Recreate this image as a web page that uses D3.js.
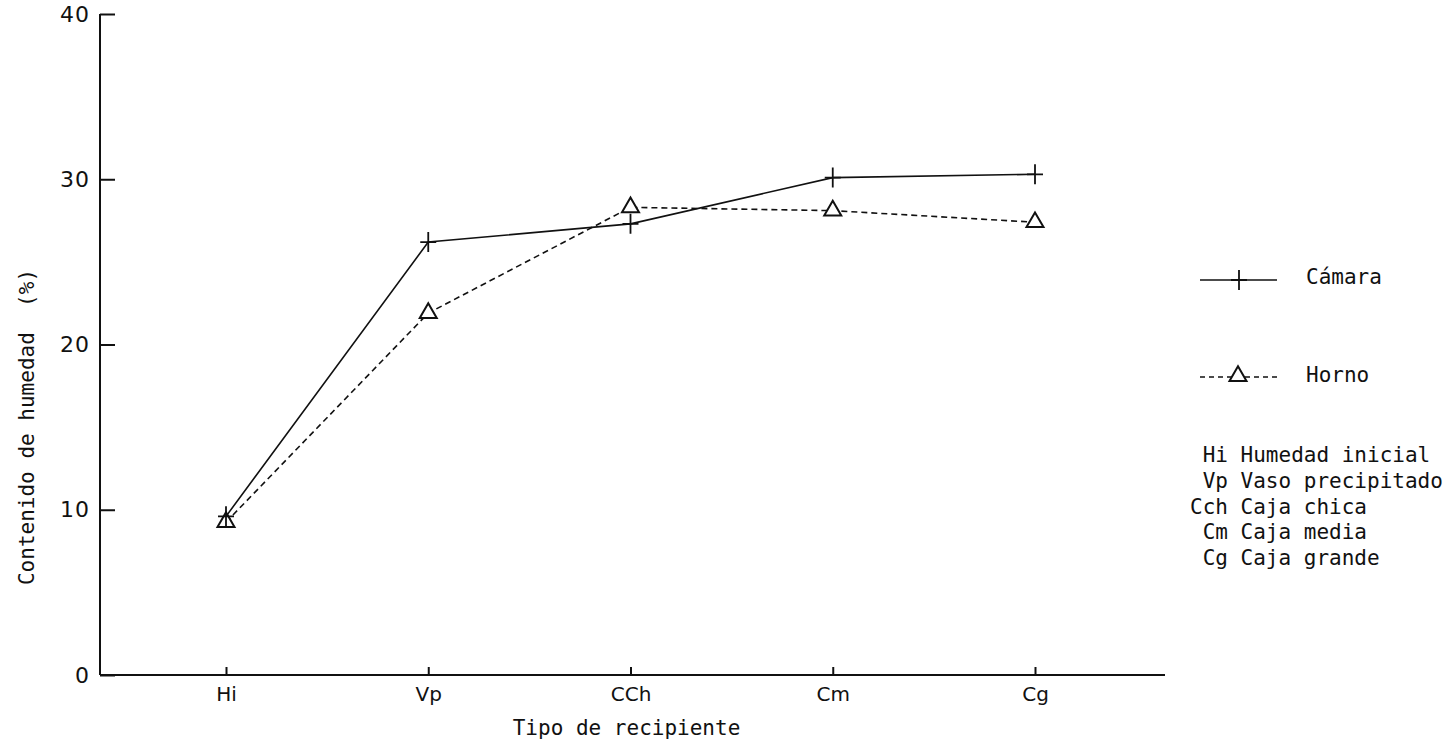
<!DOCTYPE html>
<html>
<head>
<meta charset="utf-8">
<script src="https://cdn.jsdelivr.net/npm/d3@7"></script>
<style>
  body { margin: 0; background: #fff; }
  svg { display: block; }
  .mono { font-family: "DejaVu Sans Mono", monospace; fill: #111; }
  .tick text { font-family: "DejaVu Sans", sans-serif; fill: #111; }
</style>
</head>
<body>
<svg id="chart"></svg>
<script>
const categories = ['Hi', 'Vp', 'CCh', 'Cm', 'Cg'];
const camara = [9.6, 26.2, 27.3, 30.1, 30.3];
const horno = [9.25, 21.9, 28.3, 28.1, 27.4];
const yTicks = [0, 10, 20, 30, 40];
const legendNotes = [' Hi Humedad inicial', ' Vp Vaso precipitado', 'Cch Caja chica', ' Cm Caja media', ' Cg Caja grande'];

function renderChart() {
    const width = 1456;
    const height = 747;
    const axisLeftX = 100;
    const axisRightX = 1165;
    const axisTop = 14;
    const axisBottom = 675;

    const svg = d3.select('#chart')
        .attr('width', width)
        .attr('height', height);

    const x = d3.scalePoint()
        .domain(categories)
        .range([226, 1035]);

    const y = d3.scaleLinear()
        .domain([0, 40])
        .range([axisBottom, axisTop]);

    // y axis, ticks pointing inward
    const yAxis = svg.append('g')
        .attr('transform', `translate(${axisLeftX},0)`)
        .call(d3.axisLeft(y).tickValues(yTicks).tickSize(-15).tickSizeOuter(0).tickPadding(10));
    yAxis.select('.domain').remove();
    yAxis.selectAll('.tick line').attr('stroke', '#111').attr('stroke-width', 2);
    yAxis.selectAll('.tick text').style('font-size', '22px').style('letter-spacing', '1px');

    svg.append('line')
        .attr('x1', axisLeftX).attr('x2', axisLeftX)
        .attr('y1', y(40)).attr('y2', axisBottom)
        .attr('stroke', '#111').attr('stroke-width', 2);

    // x axis, small ticks pointing up
    const xAxis = svg.append('g')
        .attr('transform', `translate(0,${axisBottom})`)
        .call(d3.axisBottom(x).tickSize(-8).tickSizeOuter(0).tickPadding(12));
    xAxis.select('.domain').remove();
    xAxis.selectAll('.tick line').attr('stroke', '#111').attr('stroke-width', 2);
    xAxis.selectAll('.tick text').style('font-size', '20px');

    svg.append('line')
        .attr('x1', axisLeftX).attr('x2', axisRightX)
        .attr('y1', axisBottom).attr('y2', axisBottom)
        .attr('stroke', '#111').attr('stroke-width', 2);

    // axis titles
    svg.append('text')
        .attr('class', 'mono')
        .attr('x', (axisLeftX + axisRightX) / 2 - 6)
        .attr('y', 735)
        .attr('text-anchor', 'middle')
        .style('font-size', '21px')
        .text('Tipo de recipiente');

    svg.append('text')
        .attr('class', 'mono')
        .attr('transform', 'translate(34,427) rotate(-90)')
        .attr('text-anchor', 'middle')
        .style('font-size', '21px')
        .style('white-space', 'pre')
        .text('Contenido de humedad  (%)');

    const line = d3.line()
        .x((d, i) => x(categories[i]))
        .y(d => y(d));

    const triangle = d3.symbol().type(d3.symbolTriangle).size(125);
    const plus = (cx, cy) => `M${cx - 8},${cy}H${cx + 8}M${cx},${cy - 10}V${cy + 10}`;

    // Horno: dashed line + open triangles
    svg.append('path')
        .datum(horno)
        .attr('d', line)
        .attr('fill', 'none')
        .attr('stroke', '#111')
        .attr('stroke-width', 1.6)
        .attr('stroke-dasharray', '6,4');

    svg.selectAll('.tri')
        .data(horno)
        .enter().append('path')
        .attr('class', 'tri')
        .attr('transform', (d, i) => `translate(${x(categories[i])},${y(d)})`)
        .attr('d', triangle)
        .attr('fill', '#fff')
        .attr('stroke', '#111')
        .attr('stroke-width', 2);

    // Cámara: solid line + crosses
    svg.append('path')
        .datum(camara)
        .attr('d', line)
        .attr('fill', 'none')
        .attr('stroke', '#111')
        .attr('stroke-width', 1.6);

    svg.selectAll('.cross')
        .data(camara)
        .enter().append('path')
        .attr('class', 'cross')
        .attr('d', (d, i) => plus(x(categories[i]), y(d)))
        .attr('fill', 'none')
        .attr('stroke', '#111')
        .attr('stroke-width', 1.8);

    // legend
    const lg = svg.append('g');
    lg.append('line')
        .attr('x1', 1200).attr('x2', 1277).attr('y1', 280).attr('y2', 280)
        .attr('stroke', '#111').attr('stroke-width', 1.6);
    lg.append('path')
        .attr('d', plus(1239, 280))
        .attr('stroke', '#111').attr('stroke-width', 1.8);
    lg.append('text')
        .attr('class', 'mono')
        .attr('x', 1306).attr('y', 284)
        .style('font-size', '21px')
        .text('Cámara');

    lg.append('line')
        .attr('x1', 1200).attr('x2', 1277).attr('y1', 377).attr('y2', 377)
        .attr('stroke', '#111').attr('stroke-width', 1.6)
        .attr('stroke-dasharray', '5,4');
    lg.append('path')
        .attr('transform', 'translate(1238,376)')
        .attr('d', triangle)
        .attr('fill', '#fff')
        .attr('stroke', '#111').attr('stroke-width', 2);
    lg.append('text')
        .attr('class', 'mono')
        .attr('x', 1306).attr('y', 382)
        .style('font-size', '21px')
        .text('Horno');

    lg.selectAll('.note')
        .data(legendNotes)
        .enter().append('text')
        .attr('class', 'mono note')
        .attr('x', 1190)
        .attr('y', (d, i) => 462 + i * 25.8)
        .style('font-size', '21px')
        .style('white-space', 'pre')
        .text(d => d);
}

renderChart();
</script>
</body>
</html>
